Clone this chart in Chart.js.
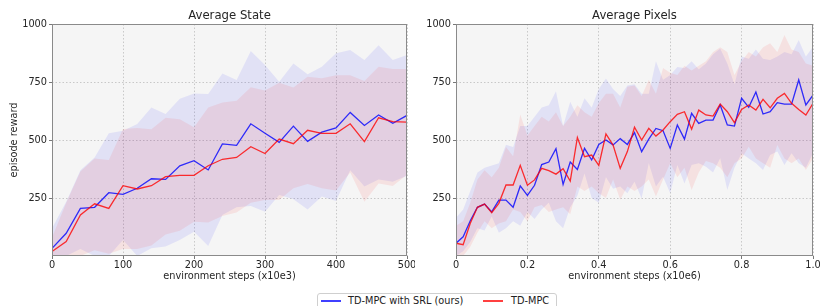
<!DOCTYPE html>
<html>
<head>
<meta charset="utf-8">
<script src="https://cdn.jsdelivr.net/npm/chart.js@4/dist/chart.umd.min.js"></script>
<style>
  body { margin: 0; background: #fff; width: 820px; height: 306px; overflow: hidden; position: relative; font-family: 'DejaVu Sans', sans-serif; }
  #leftChart { position: absolute; left: 0; top: 0; }
  #rightChart { position: absolute; left: 410px; top: 0; }
  #legendBox { position: absolute; left: 317px; top: 293px; width: 238px; height: 24px; border: 1px solid #cfcfcf; border-radius: 3px; background: #fff; }
  .sw { position: absolute; width: 20px; height: 1.5px; top: 300px; }
  .lbl { position: absolute; top: 295px; font-size: 9.75px; line-height: 12px; color: #222; white-space: nowrap; }
</style>
</head>
<body>
<canvas id="leftChart" width="415" height="285"></canvas>
<canvas id="rightChart" width="410" height="285"></canvas>
<div id="legendBox"></div>
<span class="sw" style="left:321px;background:rgba(0,0,255,0.75)"></span>
<span class="lbl" style="left:348px">TD-MPC with SRL (ours)</span>
<span class="sw" style="left:483px;background:rgba(255,0,0,0.75)"></span>
<span class="lbl" style="left:511px">TD-MPC</span>
<script>
// ---- Average State (x10e3 steps) ----
const leftSteps = [0, 20, 40, 60, 80, 100, 120, 140, 160, 180, 200, 220, 240, 260, 280, 300, 320, 340, 360, 380, 400, 420, 440, 460, 480, 500];
const leftSrlMean = [33, 98, 205, 210, 273, 266, 292, 333, 330, 389, 411, 371, 483, 477, 570, 529, 490, 560, 494, 534, 552, 619, 563, 608, 572, 606];
const leftSrlUpper = [120, 234, 370, 425, 529, 540, 569, 640, 612, 678, 701, 698, 787, 759, 884, 823, 751, 830, 784, 816, 874, 888, 845, 909, 845, 866];
const leftSrlLower = [0, 0, 30, 0, 0, 69, 0, 33, 41, 69, 105, 43, 177, 210, 216, 191, 263, 245, 201, 256, 237, 370, 300, 330, 320, 346];
const leftTdMean = [19, 62, 177, 225, 205, 303, 289, 303, 342, 348, 348, 389, 417, 425, 471, 442, 504, 484, 542, 529, 529, 570, 493, 596, 579, 577];
const leftTdUpper = [80, 230, 364, 420, 414, 548, 552, 546, 596, 590, 555, 640, 662, 669, 727, 713, 747, 726, 773, 766, 779, 779, 754, 816, 806, 806];
const leftTdLower = [0, 0, 0, 25, 10, 30, 30, 45, 93, 109, 148, 144, 172, 187, 230, 241, 241, 292, 310, 292, 282, 360, 234, 313, 302, 350];
const leftXTicks = [0, 100, 200, 300, 400, 500];
const leftXTickLabels = ['0', '100', '200', '300', '400', '500'];

// ---- Average Pixels (x10e6 steps) ----
const rightSteps = [0, 0.02, 0.04, 0.06, 0.08, 0.1, 0.12, 0.14, 0.16, 0.18, 0.2, 0.22, 0.24, 0.26, 0.28, 0.3, 0.32, 0.34, 0.36, 0.38, 0.4, 0.42, 0.44, 0.46, 0.48, 0.5,
  0.52, 0.54, 0.56, 0.58, 0.6, 0.62, 0.64, 0.66, 0.68, 0.7, 0.72, 0.74, 0.76, 0.78, 0.8, 0.82, 0.84, 0.86, 0.88, 0.9, 0.92, 0.94, 0.96, 0.98, 1.0];
const rightSrlMean = [55, 83, 152, 210, 224, 190, 241, 241, 210, 302, 261, 305, 394, 405, 463, 309, 405, 373, 464, 414, 481, 500, 479, 506, 481, 532,
  450, 504, 550, 540, 464, 565, 504, 615, 572, 586, 586, 651, 565, 560, 680, 641, 707, 612, 622, 661, 655, 655, 759, 651, 694];
const rightSrlUpper = [165, 200, 280, 360, 380, 390, 400, 480, 470, 560, 560, 600, 640, 650, 710, 560, 665, 600, 680, 640, 720, 765, 720, 690, 735, 740,
  700, 700, 840, 760, 780, 815, 810, 840, 805, 830, 870, 895, 830, 740, 860, 850, 890, 850, 845, 860, 880, 870, 931, 860, 902];
const rightSrlLower = [0, 20, 60, 120, 110, 170, 100, 120, 150, 130, 190, 160, 200, 230, 150, 120, 210, 260, 356, 250, 230, 340, 290, 300, 270, 320,
  248, 400, 300, 342, 270, 392, 313, 392, 400, 385, 360, 421, 284, 380, 443, 420, 400, 371, 435, 450, 392, 443, 400, 380, 443];
const rightTdMean = [55, 49, 141, 210, 224, 187, 227, 306, 306, 391, 305, 328, 378, 368, 353, 376, 323, 511, 428, 435, 391, 526, 478, 378, 450, 555,
  500, 550, 517, 543, 579, 611, 622, 547, 629, 608, 603, 655, 622, 575, 632, 651, 629, 675, 639, 680, 701, 658, 632, 608, 658];
const rightTdUpper = [130, 150, 230, 330, 370, 340, 380, 470, 430, 610, 520, 560, 600, 580, 620, 560, 600, 650, 620, 600, 660, 700, 700, 640, 730, 735,
  690, 760, 700, 810, 790, 780, 820, 800, 820, 840, 880, 900, 880, 780, 840, 880, 860, 900, 917, 880, 953, 890, 880, 830, 820];
const rightTdLower = [0, 0, 40, 100, 150, 120, 140, 150, 200, 190, 150, 210, 220, 190, 200, 210, 180, 300, 280, 300, 270, 250, 330, 242, 300, 280,
  300, 330, 256, 330, 400, 340, 380, 284, 360, 410, 400, 380, 340, 400, 420, 471, 420, 400, 380, 478, 420, 400, 420, 371, 420];
const rightXTicks = [0, 0.2, 0.4, 0.6, 0.8, 1.0];
const rightXTickLabels = ['0', '0.2', '0.4', '0.6', '0.8', '1.0'];

const yTicks = [250, 500, 750, 1000];
const yTickLabels = ['250', '500', '750', '1000'];

const FONT = 'DejaVu Sans';
const TEXT = '#262626';

const plotFrame = {
  id: 'plotFrame',
  beforeDraw(chart) {
    const { ctx, chartArea: a } = chart;
    ctx.save();
    ctx.fillStyle = '#f5f5f5';
    ctx.fillRect(a.left, a.top, a.width, a.height);
    ctx.restore();
  },
  afterDatasetsDraw(chart) {
    const { ctx, chartArea: a } = chart;
    ctx.save();
    ctx.strokeStyle = '#8a8a8a';
    ctx.lineWidth = 1;
    const l = Math.round(a.left) + 0.5, t = Math.round(a.top) + 0.5;
    const r = Math.round(a.right) - 0.5, b = Math.round(a.bottom) - 0.5;
    ctx.strokeRect(l, t, r - l, b - t);
    ctx.restore();
  }
};

function pts(xs, ys) {
  return xs.map((x, i) => ({ x: x, y: ys[i] }));
}

function makeChart(id, cfg) {
  const ctx = document.getElementById(id).getContext('2d');
  const band = (xs, ys, color, fill, order) => ({
    data: pts(xs, ys), borderColor: 'transparent', borderWidth: 0, pointRadius: 0,
    backgroundColor: color, fill: fill, order: order, tension: 0
  });
  return new Chart(ctx, {
    type: 'line',
    data: {
      datasets: [
        { label: 'TD-MPC with SRL (ours)', data: pts(cfg.xs, cfg.srlMean), borderColor: 'rgba(0,0,255,0.8)', borderWidth: 1.3, pointRadius: 0, fill: false, order: 1, tension: 0 },
        { label: 'TD-MPC', data: pts(cfg.xs, cfg.tdMean), borderColor: 'rgba(255,0,0,0.8)', borderWidth: 1.3, pointRadius: 0, fill: false, order: 0, tension: 0 },
        band(cfg.xs, cfg.srlLower, 'transparent', false, 3),
        band(cfg.xs, cfg.srlUpper, 'rgba(0,0,255,0.08)', '-1', 3),
        band(cfg.xs, cfg.tdLower, 'transparent', false, 2),
        band(cfg.xs, cfg.tdUpper, 'rgba(255,0,0,0.08)', '-1', 2)
      ]
    },
    options: {
      responsive: false,
      animation: false,
      devicePixelRatio: 1,
      layout: { padding: { left: 0, right: cfg.rightPad, top: 0, bottom: 0 } },
      plugins: {
        legend: { display: false },
        tooltip: { enabled: false },
        title: {
          display: true, text: cfg.title, fullSize: false, color: TEXT,
          font: { family: FONT, size: 11.7, weight: 'normal' },
          padding: { top: 9, bottom: 1 }
        }
      },
      scales: {
        x: {
          type: 'linear', min: cfg.xs[0], max: cfg.xs[cfg.xs.length - 1],
          afterBuildTicks: s => { s.ticks = cfg.xTicks.map(v => ({ value: v })); },
          afterFit: s => { s.height = 29; s.paddingLeft = 0; s.paddingRight = 0; },
          ticks: {
            callback: (v, i) => cfg.xTickLabels[i], color: TEXT, padding: 1,
            maxRotation: 0, autoSkip: false, font: { family: FONT, size: 9.75 }
          },
          grid: { color: '#bdbdbd', lineWidth: 0.8, tickColor: '#555', tickLength: 3, tickBorderDash: [] },
          border: { display: false, dash: [1.5, 2] },
          title: {
            display: true, text: cfg.xTitle, color: TEXT,
            font: { family: FONT, size: 9.75 }, padding: { top: 0, bottom: 3 }
          }
        },
        y: {
          min: 0, max: 1000,
          afterBuildTicks: s => { s.ticks = yTicks.map(v => ({ value: v })); },
          afterFit: s => { s.width = cfg.yWidth; s.paddingTop = 0; s.paddingBottom = 0; },
          ticks: {
            callback: (v, i) => yTickLabels[i], color: TEXT, padding: 2,
            font: { family: FONT, size: 9.75 }
          },
          grid: { color: '#bdbdbd', lineWidth: 0.8, tickColor: '#555', tickLength: 3, tickBorderDash: [] },
          border: { display: false, dash: [1.5, 2] },
          title: {
            display: !!cfg.yTitle, text: cfg.yTitle || '', color: TEXT,
            font: { family: FONT, size: 9.75 }, padding: { top: 9, bottom: 0 }
          }
        }
      }
    },
    plugins: [plotFrame]
  });
}

makeChart('leftChart', {
  title: 'Average State', xs: leftSteps,
  srlMean: leftSrlMean, srlUpper: leftSrlUpper, srlLower: leftSrlLower,
  tdMean: leftTdMean, tdUpper: leftTdUpper, tdLower: leftTdLower,
  xTicks: leftXTicks, xTickLabels: leftXTickLabels,
  xTitle: 'environment steps (x10e3)', yTitle: 'episode reward',
  yWidth: 52, rightPad: 8
});

makeChart('rightChart', {
  title: 'Average Pixels', xs: rightSteps,
  srlMean: rightSrlMean, srlUpper: rightSrlUpper, srlLower: rightSrlLower,
  tdMean: rightTdMean, tdUpper: rightTdUpper, tdLower: rightTdLower,
  xTicks: rightXTicks, xTickLabels: rightXTickLabels,
  xTitle: 'environment steps (x10e6)', yTitle: null,
  yWidth: 46, rightPad: 7
});
</script>
</body>
</html>
